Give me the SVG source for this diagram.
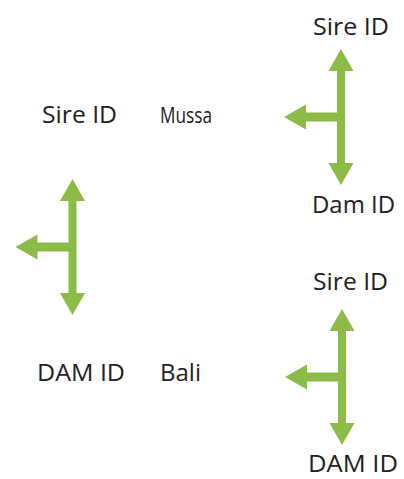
<svg xmlns="http://www.w3.org/2000/svg" xmlns:xlink="http://www.w3.org/1999/xlink" width="404" height="479" viewBox="0 0 404 479">
<style>
  .lbl { font-family: "Open Sans", "Noto Sans", "DejaVu Sans", sans-serif; font-size: 24px; fill: #222222; }
  .arr { fill: #8DBB47; }
</style>
<defs>
  <path id="tee" class="arr" d="M0,-68 L12.5,-46 L4,-46 L4,46 L12.5,46 L0,68 L-12.5,46 L-4,46 L-4,4.5 L-35,4.5 L-35,12.5 L-57,0 L-35,-12.5 L-35,-4.5 L-4,-4.5 L-4,-46 L-12.5,-46 Z"/>
</defs>
<rect width="404" height="479" fill="#ffffff"/>
<g id="connectors">
  <use xlink:href="#tee" href="#tee" transform="translate(341,117)"/>
  <use xlink:href="#tee" href="#tee" transform="translate(72.5,247)"/>
  <use xlink:href="#tee" href="#tee" transform="translate(342,377)"/>
</g>
<g id="sire-top"><text class="lbl" x="313" y="35" textLength="76" lengthAdjust="spacingAndGlyphs">Sire ID</text></g>
<g id="dam-top"><text class="lbl" x="312" y="213" textLength="83" lengthAdjust="spacingAndGlyphs">Dam ID</text></g>
<g id="sire-left"><text class="lbl" x="42" y="123" textLength="75" lengthAdjust="spacingAndGlyphs">Sire ID</text></g>
<g id="mussa"><text class="lbl" x="160" y="123" textLength="52" lengthAdjust="spacingAndGlyphs" style="font-size:21px">Mussa</text></g>
<g id="sire-bottom"><text class="lbl" x="313" y="290" textLength="75" lengthAdjust="spacingAndGlyphs">Sire ID</text></g>
<g id="dam-left"><text class="lbl" x="37" y="381" textLength="88" lengthAdjust="spacingAndGlyphs">DAM ID</text></g>
<g id="bali"><text class="lbl" x="160" y="381" textLength="41" lengthAdjust="spacingAndGlyphs">Bali</text></g>
<g id="dam-bottom"><text class="lbl" x="308" y="472" textLength="90" lengthAdjust="spacingAndGlyphs">DAM ID</text></g>
</svg>
